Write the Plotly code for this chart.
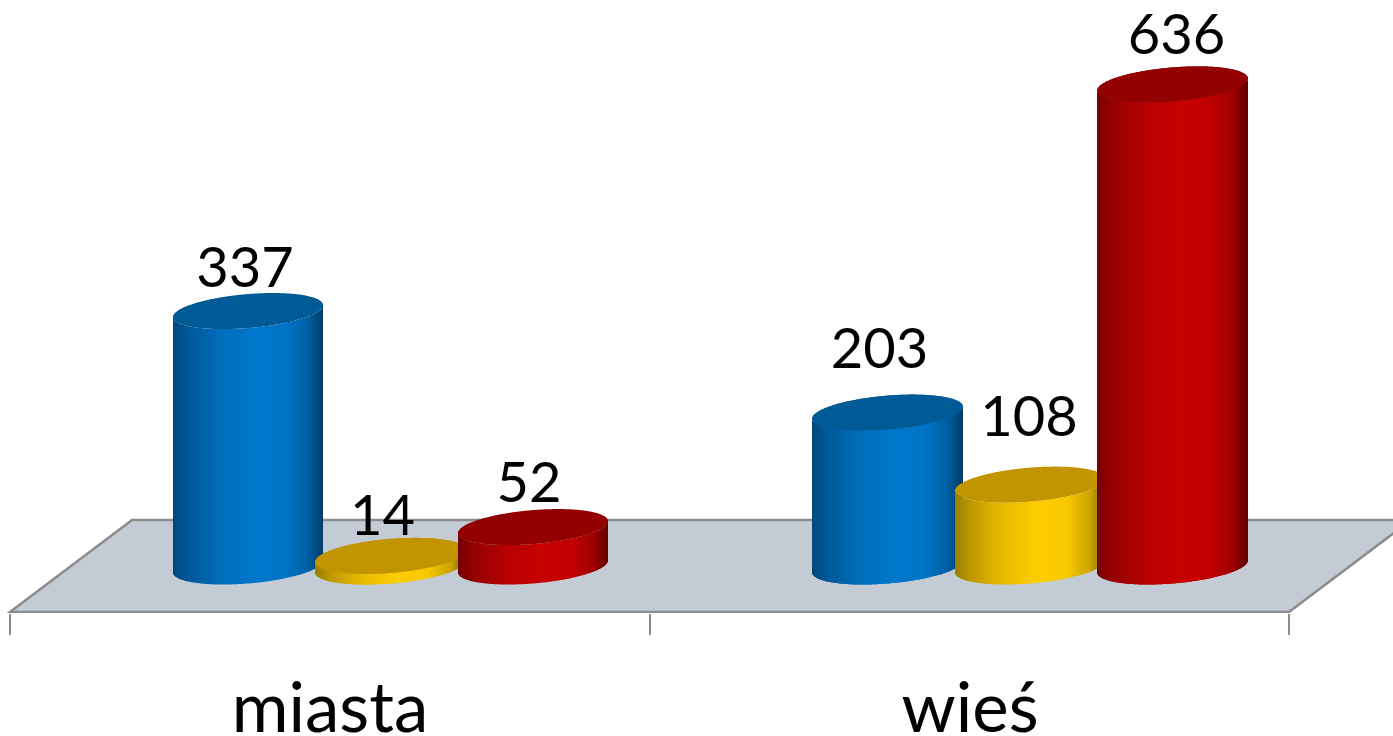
import numpy as np
import plotly.graph_objects as go

# ---- data ----
categories = ["miasta", "wieś"]
series_names = ["seria 1", "seria 2", "seria 3"]
blue_values = [337, 203]
yellow_values = [14, 108]
red_values = [52, 636]

# ---- style ----
side_colors = [(0, 120, 205), (255, 206, 0), (200, 0, 0)]
top_colors = ["#005A96", "#C29500", "#920000"]
shade_t = [0, .1, .3, .55, .75, .9, 1]
shade_f = [.60, .74, .90, 1, .97, .80, .50]
FONT = "Lato"
INK = "#000000"
EDGE = "#8C8C8C"
FLOOR = "#C3CBD4"

# ---- geometry of the 3D look, all in pixels of the 1393-wide x axis ----
W, H = 1393, 736
PLOT_BOTTOM = 613
BASE_PX = 566.5      # where value 0 sits on the page
PX_PER_UNIT = 0.758
y_low = (BASE_PX - PLOT_BOTTOM) / PX_PER_UNIT
y_high = BASE_PX / PX_PER_UNIT
group_centers = [390.5, 1030]
tick_centers = [330, 970]
separators = [10, 650, 1289]
offsets = [-142.5, 0, 142.5]
RADIUS = 75
TILT = 0.08 / PX_PER_UNIT
HALF_H = 17 / PX_PER_UNIT

label_dx = [[-3, -8, -4], [-8, -1, 4]]
label_dy = [[38, 35, 39], [59, 63, 44]]


def v2y(px):
    return (BASE_PX - px) / PX_PER_UNIT


fig = go.Figure()
series = [blue_values, yellow_values, red_values]
for g, center in enumerate(group_centers):
    for s, vals in enumerate(series):
        v = vals[g]
        cx = center + offsets[s]
        xs = np.arange(-RADIUS, RADIUS) + 0.5
        lean = TILT * xs
        bulge = HALF_H * np.sqrt(1 - (xs / RADIUS) ** 2)
        t = (xs + RADIUS) / (2 * RADIUS)
        f = np.interp(t, shade_t, shade_f)
        rgb = side_colors[s]
        cols = [f"rgb({int(rgb[0]*k)},{int(rgb[1]*k)},{int(rgb[2]*k)})" for k in f]
        fig.add_trace(go.Bar(
            x=cx + xs, y=[v] * len(xs), base=lean - bulge, width=1.0,
            marker=dict(color=cols, line=dict(width=0)),
            name=series_names[s], showlegend=False, hoverinfo="skip"))
        fig.add_trace(go.Bar(
            x=cx + xs, y=2 * bulge, base=v + lean - bulge, width=1.0,
            marker=dict(color=top_colors[s], line=dict(width=0)),
            name=series_names[s], showlegend=False, hoverinfo="skip"))

lx, ly, lt = [], [], []
for g, center in enumerate(group_centers):
    for s, vals in enumerate(series):
        lx.append(center + offsets[s] + label_dx[g][s])
        ly.append(vals[g] + label_dy[g][s] / PX_PER_UNIT)
        lt.append(str(vals[g]))
fig.add_trace(go.Scatter(
    x=lx, y=ly, text=lt, mode="text", textposition="middle center",
    textfont=dict(family=FONT, size=56, color=INK),
    showlegend=False, hoverinfo="skip", cliponaxis=False))

fy, by = v2y(612), v2y(520)
floor_path = f"M 10 {fy} L 132 {by} L 1411 {by} L 1289 {fy} Z"
fig.add_shape(type="path", path=floor_path, xref="x", yref="y", layer="below",
              fillcolor=FLOOR, line=dict(color=EDGE, width=2.5))

fig.update_layout(
    width=W, height=H, autosize=False,
    margin=dict(l=0, r=0, t=0, b=H - PLOT_BOTTOM, pad=0),
    paper_bgcolor="white", plot_bgcolor="white",
    barmode="overlay", showlegend=False,
    xaxis=dict(range=[0, W], showgrid=False, zeroline=False, showline=False,
               automargin=False,
               tickmode="array", tickvals=tick_centers, ticktext=categories,
               ticks="", ticklabelstandoff=49,
               tickfont=dict(family=FONT, size=69, color=INK),
               minor=dict(tickmode="array", tickvals=separators, ticks="outside",
                          ticklen=21, tickwidth=2, tickcolor=EDGE, showgrid=False)),
    yaxis=dict(range=[y_low, y_high], visible=False, showgrid=False, zeroline=False,
               automargin=False),
)

fig.write_html("out.html", config={"displayModeBar": False},
               post_script="document.body.style.margin='0';document.body.style.overflow='hidden';")
